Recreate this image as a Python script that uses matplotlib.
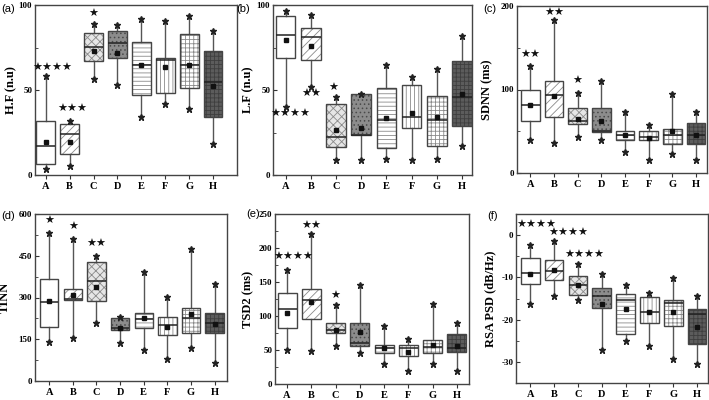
import numpy as np
import matplotlib
matplotlib.use("Agg")
import matplotlib.pyplot as plt
from matplotlib.patches import PathPatch

plt.rcParams['hatch.linewidth'] = 0.6

groups = ['A', 'B', 'C', 'D', 'E', 'F', 'G', 'H']

# (a) H.F (n.u)
hf_hi   = [58, 32, 89, 88.5, 92, 90.5, 93.5, 85]
hf_q3   = [32, 30, 83.5, 84.5, 78, 69, 83, 73]
hf_med  = [17, 24, 75.5, 77.5, 64.5, 67.5, 65, 55]
hf_q1   = [6.3, 12.5, 67, 69, 47, 48, 51, 34]
hf_lo   = [3.5, 5.5, 56.5, 53, 34, 41.5, 39, 18]
hf_mean = [19.5, 19.5, 73, 71.5, 64.5, 63.5, 64.5, 52.5]

# (b) L.F (n.u)
lf_hi   = [96.5, 94, 45.7, 47.5, 64.7, 57.8, 62.4, 82]
lf_q3   = [93.5, 86.7, 41.6, 47.5, 51.4, 52.7, 46.3, 67.3]
lf_med  = [82.5, 81, 22.5, 23.5, 32.2, 33.9, 32.4, 45.9]
lf_q1   = [69, 67.5, 16.7, 23.5, 15.7, 27.5, 17, 29]
lf_lo   = [40, 51.6, 8.8, 8.8, 9.2, 8.8, 9.4, 17]
lf_mean = [79.6, 76, 26.5, 27.8, 33.3, 36.3, 34.3, 47.5]

# (c) SDNN (ms)
sd_hi   = [128, 183, 96, 110, 73, 57, 95, 73]
sd_q3   = [99, 110, 78, 78, 50, 50, 53, 60]
sd_med  = [81, 94, 62, 50, 46, 43, 45, 46]
sd_q1   = [62, 67, 59, 49, 40, 39, 35, 35]
sd_lo   = [39, 36, 43, 39, 25, 16, 23, 16]
sd_mean = [81, 92, 65, 62, 46, 42, 50, 46]

# (d) TINN
ti_hi   = [533, 509, 448, 231, 393, 303, 475, 347]
ti_q3   = [367, 332, 427, 225, 243, 231, 261, 245]
ti_med  = [285, 293, 360, 191, 222, 201, 226, 209]
ti_q1   = [195, 291, 289, 185, 189, 165, 171, 171]
ti_lo   = [141, 155, 210, 135, 113, 78, 119, 64]
ti_mean = [289, 308, 338, 191, 226, 195, 239, 206]

# (e) TSD2 (ms)
ts_hi   = [167, 221, 116, 145, 86, 66, 117, 89]
ts_q3   = [134, 140, 90, 90, 57.5, 57.5, 65, 73]
ts_med  = [110, 124, 80, 61, 52.5, 53.5, 55, 52.5]
ts_q1   = [82, 95, 75, 56, 45, 41, 45, 47]
ts_lo   = [50, 49, 56, 45, 29.5, 19, 29, 19]
ts_mean = [105, 120, 79, 77, 52.5, 47.6, 57.5, 55.5]

# (f) RSA PSD (dB/Hz)
rs_hi   = [-2.4, -1.4, -6.9, -9.3, -11.8, -13.8, -10.1, -14.5]
rs_q3   = [-5.4, -6.0, -9.6, -12.6, -13.9, -14.7, -15.4, -17.4]
rs_med  = [-8.9, -8.5, -11.9, -14.3, -15.3, -18.3, -16.1, -18.7]
rs_q1   = [-11.5, -10.6, -14.1, -17.3, -23.3, -20.8, -21.4, -25.7]
rs_lo   = [-16.2, -14.3, -15.4, -27.1, -25.1, -26.2, -29.3, -30.5]
rs_mean = [-9.3, -8.3, -11.9, -16.4, -17.4, -18.3, -18.3, -21.7]

# significance marks: (group index, y value, text, x shift)
hf_sig = [(0, 63, '★★★★', 0.29), (1, 38.6, '★★★', 0.1), (2, 94.7, '★', 0)]
lf_sig = [(0, 35.7, '★★★★', 0.17), (1, 47.6, '★★', 0.0), (2, 51, '★', -0.1)]
sd_sig = [(0, 141, '★★', 0), (1, 192, '★★', 0), (2, 110, '★', 0)]
ti_sig = [(0, 574, '★', 0), (1, 552, '★', 0), (2, 492, '★★', 0)]
ts_sig = [(0, 187, '★★★★', 0.25), (1, 233, '★★', 0), (2, 129, '★', 0)]
rs_sig = [(0, 2.4, '★★★★', 0.26), (1, 0.4, '★★★★', 0.6), (2, -4.7, '★★★★', 0.25)]

# box styles per group: facecolor, hatch, hatch colour
styles = [
    ('white', '', '#444444'),
    ('white', '////', '#8a8a8a'),
    ('#e6e6e6', 'xxxx', '#8a8a8a'),
    ('#8c8c8c', '....', '#4a4a4a'),
    ('white', '----', '#8a8a8a'),
    ('white', '||||', '#8a8a8a'),
    ('white', '++++', '#8a8a8a'),
    ('#5c5c5c', '++++', '#3e3e3e'),
]

W, H = 709, 400
fig = plt.figure(figsize=(W / 100, H / 100), dpi=100)
fig.patch.set_facecolor('white')

SERIF = 'Liberation Serif'


def add_ax(left, right, top, bottom):
    ax = fig.add_axes([left / W, 1 - bottom / H, (right - left) / W, (bottom - top) / H])
    ax._px_width = right - left
    return ax


def panel(ax, lo, q1, med, q3, hi, mean, sig, ylim, yticks, ylabel, xlim, minor, label_gap):
    stats = []
    for i, g in enumerate(groups):
        stats.append(dict(label=g, whislo=lo[i], q1=q1[i], med=med[i], q3=q3[i],
                          whishi=hi[i], mean=mean[i], fliers=np.array([lo[i], hi[i]])))
    res = ax.bxp(stats, positions=range(len(groups)), widths=0.78, patch_artist=True,
                 showmeans=True, showcaps=False,
                 meanprops=dict(marker='s', markersize=2.6, markerfacecolor='#111',
                                markeredgecolor='#111', zorder=6),
                 flierprops=dict(marker='*', markersize=4.5, markerfacecolor='#222',
                                 markeredgecolor='#222', zorder=6),
                 medianprops=dict(color='#222', lw=1.1, zorder=5),
                 whiskerprops=dict(color='#555', lw=1.0))
    for patch, (fc, hatch, hc) in zip(res['boxes'], styles):
        patch.set_facecolor(fc)
        patch.set_hatch(hatch)
        patch.set_edgecolor(hc)
        patch.set_linewidth(0)
        ax.add_patch(PathPatch(patch.get_path(), transform=patch.get_transform(),
                               fill=False, edgecolor='#454545', lw=1.0,
                               zorder=patch.get_zorder() + 0.5))
    for gi, yv, txt, dx in sig:
        ax.text(gi + dx, yv, txt, ha='center', va='center', fontsize=8,
                family='DejaVu Sans', color='#111')
    ax.set_ylim(*ylim)
    ax.set_xlim(*xlim)
    ax.set_yticks(yticks)
    ax.set_yticklabels([str(t) for t in yticks], fontfamily=SERIF, fontweight='bold', fontsize=6.5)
    if minor is not None:
        ax.set_yticks(minor, minor=True)
    ax.set_xticks(range(len(groups)))
    ax.set_xticklabels(groups, fontfamily=SERIF, fontweight='bold', fontsize=7.5)
    ax.tick_params(axis='x', which='major', length=3, width=0.8, color='#333', pad=2,
                   direction='out')
    ax.tick_params(axis='y', which='major', length=3, width=0.8, color='#333', pad=2,
                   direction='in')
    ax.tick_params(axis='y', which='minor', length=1.8, width=0.6, color='#333',
                   direction='in')
    for s in ax.spines.values():
        s.set_linewidth(1.0)
        s.set_color('#444')
    ax.set_ylabel(ylabel, fontfamily=SERIF, fontweight='bold', fontsize=9)
    ax.yaxis.set_label_coords(-label_gap / ax._px_width, 0.5)


axa = add_ax(35, 237, 5, 175)
panel(axa, hf_lo, hf_q1, hf_med, hf_q3, hf_hi, hf_mean, hf_sig, (0, 100), [0, 50, 100],
      'H.F (n.u)', (-0.45, 8.0), [25, 75], 18)
axb = add_ax(273, 472, 5, 175)
panel(axb, lf_lo, lf_q1, lf_med, lf_q3, lf_hi, lf_mean, lf_sig, (0, 100), [0, 50, 100],
      'L.F (n.u)', (-0.5, 7.4), [25, 75], 19)
axc = add_ax(517, 707, 6, 173)
panel(axc, sd_lo, sd_q1, sd_med, sd_q3, sd_hi, sd_mean, sd_sig, (0, 200), [0, 100, 200],
      'SDNN (ms)', (-0.56, 7.46), [50, 150], 24)
axd = add_ax(35, 227, 214, 381)
panel(axd, ti_lo, ti_q1, ti_med, ti_q3, ti_hi, ti_mean, ti_sig, (0, 600), [0, 150, 300, 450, 600],
      'TINN', (-0.6, 7.52), [75, 225, 375, 525], 24)
axe = add_ax(275, 469, 214, 384)
panel(axe, ts_lo, ts_q1, ts_med, ts_q3, ts_hi, ts_mean, ts_sig, (0, 250), [0, 50, 100, 150, 200, 250],
      'TSD2 (ms)', (-0.5, 7.5), [25, 75, 125, 175, 225], 21)
axf = add_ax(516, 708, 214, 383)
panel(axf, rs_lo, rs_q1, rs_med, rs_q3, rs_hi, rs_mean, rs_sig, (-35, 5), [-30, -20, -10, 0],
      'RSA PSD (dB/Hz)', (-0.6, 7.46), [-25, -15, -5], 20)

for lab, x, y in [('(a)', 1, 9), ('(b)', 236, 9), ('(c)', 483, 9),
                  ('(d)', 1, 216), ('(e)', 246, 214), ('(f)', 487, 216)]:
    fig.text(x / W, 1 - y / H, lab, fontsize=8, family='Liberation Sans', ha='left', va='center')

fig.savefig('out.png', dpi=100, facecolor='white')
